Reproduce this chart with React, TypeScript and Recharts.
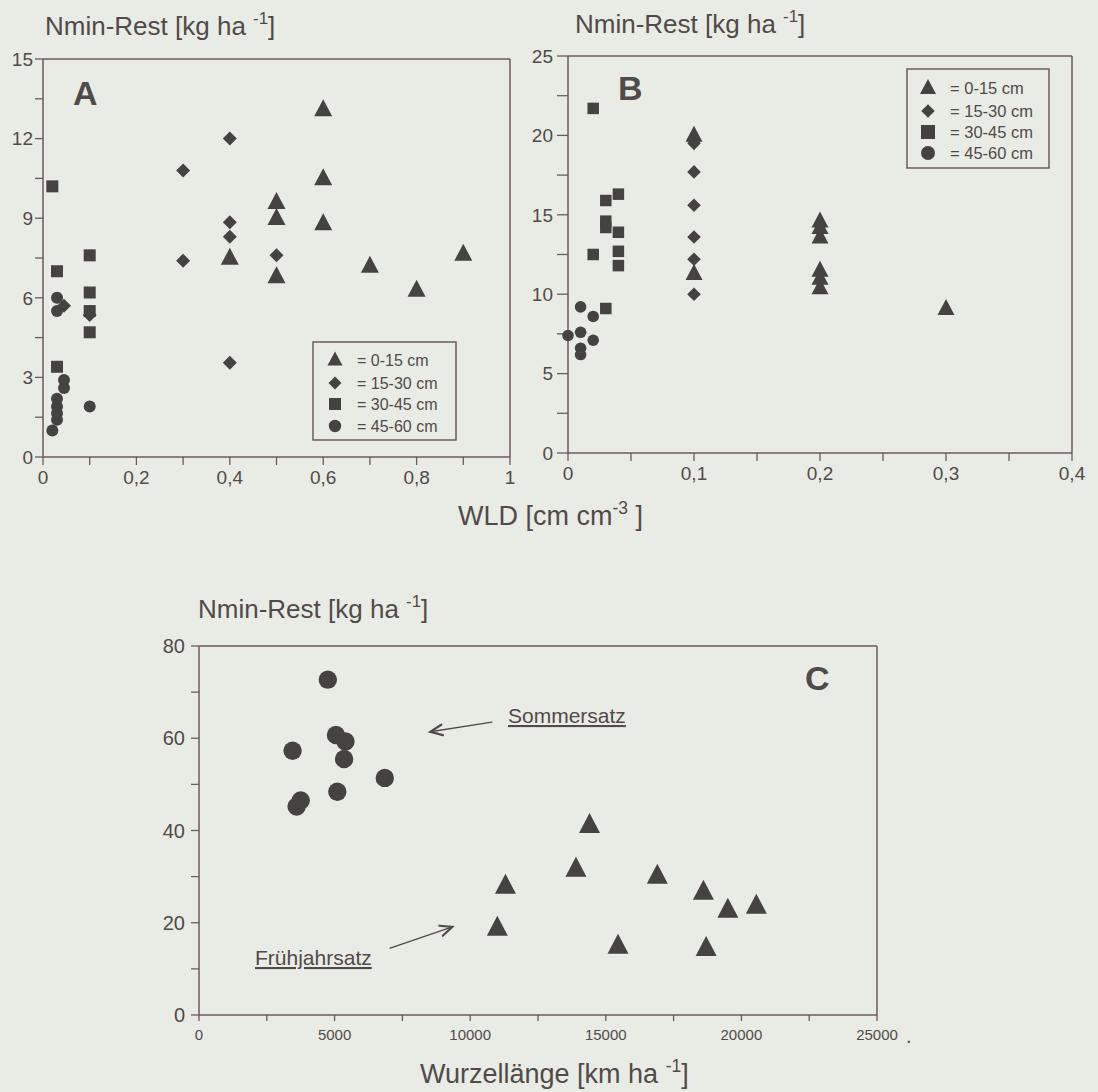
import React from "react";
import { ScatterChart, Scatter, XAxis, YAxis, ReferenceLine } from "recharts";

const FONT = '"Liberation Sans", Arial, sans-serif';
const BG = "#e9ece4";
const AXIS = "#6d5a5c";
const INK = "#514a4a";
const MARK = "#454340";

type Pt = { x: number; y: number };
const pts = (rows: number[][]): Pt[] => rows.map(([x, y]) => ({ x, y }));

// A: WLD [cm cm-3] vs Nmin-Rest, per soil layer
const a0015 = pts([[0.4, 7.5], [0.5, 9.6], [0.5, 9.0], [0.5, 6.8], [0.6, 13.1], [0.6, 10.5], [0.6, 8.8], [0.7, 7.2], [0.8, 6.3], [0.9, 7.65]]);
const a1530 = pts([[0.045, 5.7], [0.1, 5.35], [0.3, 10.8], [0.3, 7.4], [0.4, 12.0], [0.4, 8.85], [0.4, 8.3], [0.4, 3.55], [0.5, 7.6]]);
const a3045 = pts([[0.02, 10.2], [0.03, 7.0], [0.03, 3.4], [0.1, 7.6], [0.1, 6.2], [0.1, 5.5], [0.1, 4.7]]);
const a4560 = pts([[0.03, 6.0], [0.03, 5.5], [0.045, 2.9], [0.045, 2.6], [0.03, 2.2], [0.03, 1.9], [0.03, 1.65], [0.03, 1.4], [0.02, 1.0], [0.1, 1.9]]);

// B: same axes, second site
const b0015 = pts([[0.1, 20.0], [0.1, 11.3], [0.2, 14.6], [0.2, 14.2], [0.2, 13.6], [0.2, 11.5], [0.2, 11.0], [0.2, 10.4], [0.3, 9.1]]);
const b1530 = pts([[0.1, 19.5], [0.1, 17.7], [0.1, 15.6], [0.1, 13.6], [0.1, 12.2], [0.1, 10.0]]);
const b3045 = pts([[0.02, 21.7], [0.02, 12.5], [0.03, 15.9], [0.03, 14.6], [0.03, 14.2], [0.03, 9.1], [0.04, 16.3], [0.04, 13.9], [0.04, 12.7], [0.04, 11.8]]);
const b4560 = pts([[0.0, 7.4], [0.01, 9.2], [0.01, 7.6], [0.01, 6.6], [0.01, 6.2], [0.02, 8.6], [0.02, 7.1]]);

// C: root length [km ha-1] vs Nmin-Rest
const cSommer = pts([[4750, 72.7], [3450, 57.3], [5050, 60.7], [5400, 59.3], [5350, 55.5], [6850, 51.4], [5100, 48.4], [3750, 46.5], [3600, 45.2]]);
const cFruehjahr = pts([[11300, 28.0], [11000, 18.9], [14400, 41.2], [13900, 31.7], [16900, 30.2], [18600, 26.7], [19500, 22.8], [20550, 23.7], [15450, 15.0], [18700, 14.5]]);
const cArrowSommer = pts([[10800, 63.5], [8530, 61.4]]);
const cArrowFruehjahr = pts([[7050, 14.5], [9340, 19.1]]);

const depthLabels = ["= 0-15 cm", "= 15-30 cm", "= 30-45 cm", "= 45-60 cm"];

const aTicksX = [0, 0.1, 0.2, 0.3, 0.4, 0.5, 0.6, 0.7, 0.8, 0.9, 1];
const aLabelsX = [0, 0.2, 0.4, 0.6, 0.8, 1];
const aTicksY = [0, 1.5, 3, 4.5, 6, 7.5, 9, 10.5, 12, 13.5, 15];
const aLabelsY = [0, 3, 6, 9, 12, 15];
const bTicksX = [0, 0.05, 0.1, 0.15, 0.2, 0.25, 0.3, 0.35, 0.4];
const bLabelsX = [0, 0.1, 0.2, 0.3, 0.4];
const bTicksY = [0, 2.5, 5, 7.5, 10, 12.5, 15, 17.5, 20, 22.5, 25];
const bLabelsY = [0, 5, 10, 15, 20, 25];
const cTicksX = [0, 2500, 5000, 7500, 10000, 12500, 15000, 17500, 20000, 22500, 25000];
const cLabelsX = [0, 5000, 10000, 15000, 20000, 25000];
const cTicksY = [0, 10, 20, 30, 40, 50, 60, 70, 80];
const cLabelsY = [0, 20, 40, 60, 80];

const fmt = (v: number) => String(v).replace(".", ",");
const labelOnly = (labels: number[]) => (v: number) =>
  labels.some((l) => Math.abs(l - v) < 1e-9) ? fmt(v) : "";

type Kind = "triangle" | "diamond" | "square" | "circle";
type Dims = { tw: number; th: number; d: number; sq: number; r: number };
const kinds: Kind[] = ["triangle", "diamond", "square", "circle"];

const dimsA: Dims = { tw: 18, th: 17, d: 7, sq: 12, r: 6 };
const dimsB: Dims = { tw: 17, th: 16, d: 6.8, sq: 11.5, r: 5.8 };
const dimsC: Dims = { tw: 21, th: 20, d: 8, sq: 16, r: 9.2 };
const dimsLegA: Dims = { tw: 15, th: 14, d: 6.5, sq: 12, r: 6.2 };
const dimsLegB: Dims = { tw: 16, th: 15, d: 6.8, sq: 14, r: 7 };

function Mark({ kind, cx, cy, dims }: { kind: Kind; cx?: number; cy?: number; dims: Dims }) {
  if (cx == null || cy == null) return null;
  if (kind === "triangle") {
    const { tw, th } = dims;
    return (
      <path
        d={`M${cx},${cy - th * 0.6}L${cx + tw / 2},${cy + th * 0.4}L${cx - tw / 2},${cy + th * 0.4}Z`}
        fill={MARK}
      />
    );
  }
  if (kind === "diamond") {
    const d = dims.d;
    return <path d={`M${cx},${cy - d}L${cx + d},${cy}L${cx},${cy + d}L${cx - d},${cy}Z`} fill={MARK} />;
  }
  if (kind === "square") {
    const s = dims.sq;
    return <rect x={cx - s / 2} y={cy - s / 2} width={s} height={s} fill={MARK} />;
  }
  return <circle cx={cx} cy={cy} r={dims.r} fill={MARK} />;
}

const shapeOf = (kind: Kind, dims: Dims) => (p: any) => <Mark kind={kind} cx={p.cx} cy={p.cy} dims={dims} />;

function Arrow(p: any) {
  const { x1, y1, x2, y2 } = p;
  if (x1 == null) return null;
  const ang = Math.atan2(y2 - y1, x2 - x1);
  const L = 13;
  const s = 0.42;
  const h1 = `${x2 - L * Math.cos(ang - s)},${y2 - L * Math.sin(ang - s)}`;
  const h2 = `${x2 - L * Math.cos(ang + s)},${y2 - L * Math.sin(ang + s)}`;
  return (
    <g stroke={INK} fill="none" strokeLinecap="round">
      <line x1={x1} y1={y1} x2={x2} y2={y2} strokeWidth={1.4} />
      <polyline points={`${h1} ${x2},${y2} ${h2}`} strokeWidth={2.2} />
    </g>
  );
}

type PanelProps = {
  left: number;
  top: number;
  width: number;
  height: number;
  margin: { top: number; right: number; bottom: number; left: number };
  xAxisHeight: number;
  xDomain: [number, number];
  yDomain: [number, number];
  xTicks: number[];
  xLabels: number[];
  yTicks: number[];
  yLabels: number[];
  xFont: number;
  yFont: number;
  xTickSize: number;
  yTickSize: number;
  xTickMargin: number;
  yTickMargin: number;
  series: Pt[][];
  seriesKinds: Kind[];
  dims: Dims;
  children?: React.ReactNode;
};

function Panel(p: PanelProps) {
  const tickStyle = (fs: number) => ({ fontSize: fs, fill: INK, fontFamily: FONT });
  return (
    <div style={{ position: "absolute", left: p.left, top: p.top }}>
      <ScatterChart width={p.width} height={p.height} margin={p.margin}>
        <XAxis
          type="number"
          dataKey="x"
          domain={p.xDomain}
          ticks={p.xTicks}
          interval={0}
          height={p.xAxisHeight}
          tickFormatter={labelOnly(p.xLabels)}
          tick={tickStyle(p.xFont)}
          tickSize={p.xTickSize}
          tickMargin={p.xTickMargin}
          stroke={AXIS}
          axisLine={{ stroke: AXIS, strokeWidth: 1.5 }}
          tickLine={{ stroke: AXIS, strokeWidth: 1.3 }}
        />
        <YAxis
          type="number"
          dataKey="y"
          domain={p.yDomain}
          ticks={p.yTicks}
          interval={0}
          width={40}
          tickFormatter={labelOnly(p.yLabels)}
          tick={tickStyle(p.yFont)}
          tickSize={p.yTickSize}
          tickMargin={p.yTickMargin}
          stroke={AXIS}
          axisLine={{ stroke: AXIS, strokeWidth: 1.5 }}
          tickLine={{ stroke: AXIS, strokeWidth: 1.3 }}
        />
        <ReferenceLine y={p.yDomain[1]} stroke={AXIS} strokeWidth={1.5} />
        <ReferenceLine x={p.xDomain[1]} stroke={AXIS} strokeWidth={1.5} />
        {p.series.map((data, i) => (
          <Scatter
            key={i}
            data={data}
            isAnimationActive={false}
            shape={shapeOf(p.seriesKinds[i], p.dims)}
          />
        ))}
        {p.children}
      </ScatterChart>
    </div>
  );
}

function LegendBox({ x, y, w, h, symX, textX, rows, dims, fs }: {
  x: number; y: number; w: number; h: number; symX: number; textX: number; rows: number[]; dims: Dims; fs: number;
}) {
  return (
    <g>
      <rect x={x} y={y} width={w} height={h} fill="none" stroke={AXIS} strokeWidth={1.5} />
      {rows.map((ry, i) => (
        <g key={i}>
          <Mark kind={kinds[i]} cx={symX} cy={ry} dims={dims} />
          <text x={textX} y={ry + 6} fontSize={fs} fill={INK} fontFamily={FONT}>
            {depthLabels[i]}
          </text>
        </g>
      ))}
    </g>
  );
}

function UnitTitle({ x, y, text, sup, tail, fs }: { x: number; y: number; text: string; sup: string; tail: string; fs: number }) {
  return (
    <text x={x} y={y} fontSize={fs} fill={INK} fontFamily={FONT}>
      {text}
      <tspan dy={-11} fontSize={fs * 0.65}>{sup}</tspan>
      <tspan dy={11}>{tail}</tspan>
    </text>
  );
}

export default function App() {
  return (
    <div
      style={{
        position: "absolute",
        left: 0,
        top: 0,
        width: 1098,
        height: 1092,
        background: BG,
        overflow: "hidden",
        fontFamily: FONT,
      }}
    >
      <Panel
        left={0}
        top={0}
        width={520}
        height={500}
        margin={{ top: 59, right: 10, bottom: 0, left: 3 }}
        xAxisHeight={43}
        xDomain={[0, 1]}
        yDomain={[0, 15]}
        xTicks={aTicksX}
        xLabels={aLabelsX}
        yTicks={aTicksY}
        yLabels={aLabelsY}
        xFont={19}
        yFont={19}
        xTickSize={8}
        yTickSize={8}
        xTickMargin={6}
        yTickMargin={2}
        series={[a0015, a1530, a3045, a4560]}
        seriesKinds={kinds}
        dims={dimsA}
      />
      <Panel
        left={520}
        top={0}
        width={570}
        height={500}
        margin={{ top: 56, right: 18, bottom: 0, left: 8 }}
        xAxisHeight={47}
        xDomain={[0, 0.4]}
        yDomain={[0, 25]}
        xTicks={bTicksX}
        xLabels={bLabelsX}
        yTicks={bTicksY}
        yLabels={bLabelsY}
        xFont={19}
        yFont={19}
        xTickSize={8}
        yTickSize={11}
        xTickMargin={6}
        yTickMargin={4}
        series={[b0015, b1530, b3045, b4560]}
        seriesKinds={kinds}
        dims={dimsB}
      />
      <Panel
        left={150}
        top={600}
        width={770}
        height={470}
        margin={{ top: 46, right: 43, bottom: 0, left: 9 }}
        xAxisHeight={55}
        xDomain={[0, 25000]}
        yDomain={[0, 80]}
        xTicks={cTicksX}
        xLabels={cLabelsX}
        yTicks={cTicksY}
        yLabels={cLabelsY}
        xFont={15}
        yFont={20}
        xTickSize={6}
        yTickSize={8}
        xTickMargin={8}
        yTickMargin={6}
        series={[cSommer, cFruehjahr]}
        seriesKinds={["circle", "triangle"]}
        dims={dimsC}
      >
        <ReferenceLine segment={cArrowSommer} shape={Arrow} ifOverflow="visible" />
        <ReferenceLine segment={cArrowFruehjahr} shape={Arrow} ifOverflow="visible" />
      </Panel>

      <svg
        width={1098}
        height={1092}
        style={{ position: "absolute", left: 0, top: 0, pointerEvents: "none" }}
      >
        <UnitTitle x={45} y={35} fs={26} text="Nmin-Rest [kg ha " sup="-1" tail="]" />
        <UnitTitle x={575} y={33} fs={26} text="Nmin-Rest [kg ha " sup="-1" tail="]" />
        <UnitTitle x={198} y={618} fs={26} text="Nmin-Rest [kg ha " sup="-1" tail="]" />
        <UnitTitle x={458} y={525} fs={27} text="WLD [cm cm" sup="-3" tail=" ]" />
        <UnitTitle x={420} y={1083} fs={27} text="Wurzellänge [km ha " sup="-1" tail="]" />

        <text x={73} y={105} fontSize={34} fontWeight="bold" fill={INK} fontFamily={FONT}>A</text>
        <text x={618} y={100} fontSize={34} fontWeight="bold" fill={INK} fontFamily={FONT}>B</text>
        <text x={805} y={690} fontSize={34} fontWeight="bold" fill={INK} fontFamily={FONT}>C</text>

        <text x={508} y={723} fontSize={21} fill={INK} fontFamily={FONT} textDecoration="underline">
          Sommersatz
        </text>
        <text x={255} y={965} fontSize={21} fill={INK} fontFamily={FONT} textDecoration="underline">
          Frühjahrsatz
        </text>
        <text x={906} y={1043} fontSize={20} fill={INK} fontFamily={FONT}>.</text>

        <LegendBox x={313} y={342} w={143} h={98} symX={335} textX={357} rows={[360, 383, 404, 426]} dims={dimsLegA} fs={16} />
        <LegendBox x={907} y={69} w={142} h={99} symX={928} textX={950} rows={[88, 111, 132, 153]} dims={dimsLegB} fs={16.5} />
      </svg>
    </div>
  );
}
